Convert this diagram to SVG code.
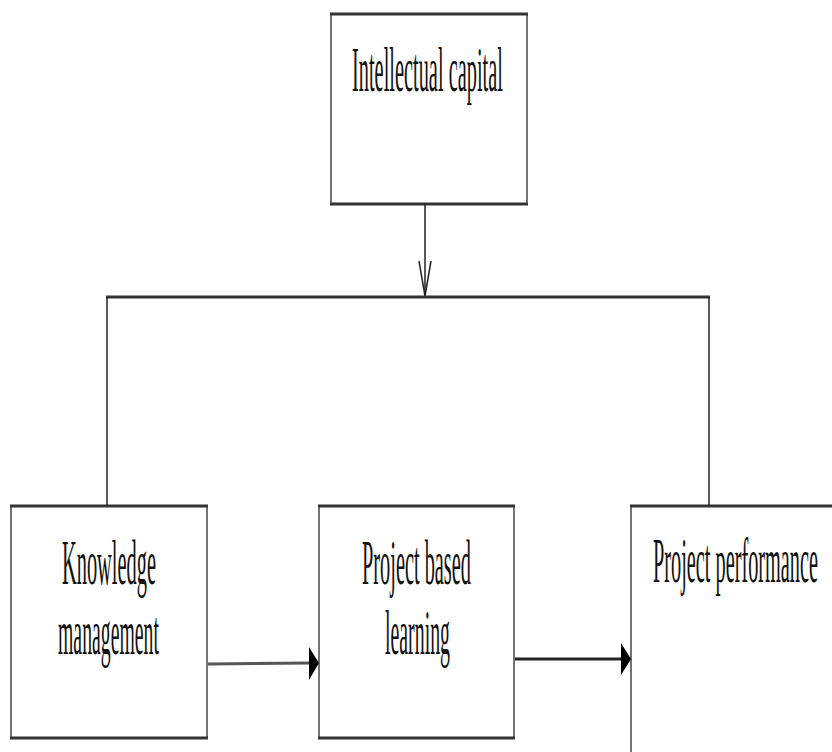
<svg xmlns="http://www.w3.org/2000/svg" width="832" height="752" viewBox="0 0 832 752">
<style>
.side{stroke:#444;stroke-width:1.5;fill:none}
.edge{stroke:#333;stroke-width:3;fill:none}
.lbl{font-family:"Liberation Serif","Times New Roman",serif;font-size:63px;fill:#111}
.wire{stroke:#222;stroke-width:1.5;fill:none}
</style>
<rect width="832" height="752" fill="#fff"/>
<g id="intellectual-capital">
<rect x="331" y="14" width="196" height="190" fill="#fff" stroke="none"/>
<line class="side" x1="331" y1="14" x2="331" y2="204"/>
<line class="side" x1="527" y1="14" x2="527" y2="204"/>
<line class="edge" x1="330" y1="14" x2="528" y2="14"/>
<line class="edge" x1="330" y1="204" x2="528" y2="204"/>
<text class="lbl" transform="translate(352,91) scale(0.3233,1)">Intellectual capital</text>
</g>
<g id="knowledge-management">
<line class="side" x1="11" y1="506" x2="11" y2="738"/>
<line class="side" x1="207" y1="506" x2="207" y2="738"/>
<line class="edge" x1="10" y1="506" x2="208" y2="506"/>
<line class="edge" x1="10" y1="738" x2="208" y2="738"/>
<text class="lbl" transform="translate(62,584) scale(0.3237,1)">Knowledge</text>
<text class="lbl" transform="translate(58,654) scale(0.3137,1)">management</text>
</g>
<g id="project-based-learning">
<line class="side" x1="319" y1="506" x2="319" y2="738"/>
<line class="side" x1="514" y1="506" x2="514" y2="738"/>
<line class="edge" x1="318" y1="506" x2="515" y2="506"/>
<line class="edge" x1="318" y1="738" x2="515" y2="738"/>
<text class="lbl" transform="translate(362,584) scale(0.3228,1)">Project based</text>
<text class="lbl" transform="translate(385,654) scale(0.315,1)">learning</text>
</g>
<g id="project-performance">
<line class="side" x1="631" y1="506" x2="631" y2="752"/>
<line class="edge" x1="630" y1="506" x2="832" y2="506"/>
<text class="lbl" transform="translate(653,582) scale(0.322,1)">Project performance</text>
</g>
<g id="connectors">
<line class="wire" x1="425" y1="204" x2="425" y2="297"/>
<polyline class="wire" points="419,261 425,296 431,261"/>
<line class="edge" x1="106" y1="297" x2="710" y2="297"/>
<line class="wire" x1="107" y1="297" x2="107" y2="506"/>
<line class="wire" x1="709" y1="297" x2="709" y2="506"/>
<line x1="208" y1="664" x2="310" y2="663" stroke="#555" stroke-width="3"/>
<polygon points="309,647 319,663 309,680" fill="#000"/>
<line x1="515" y1="659" x2="622" y2="659" stroke="#222" stroke-width="3"/>
<polygon points="621,643 631,659 621,675" fill="#000"/>
</g>
</svg>
